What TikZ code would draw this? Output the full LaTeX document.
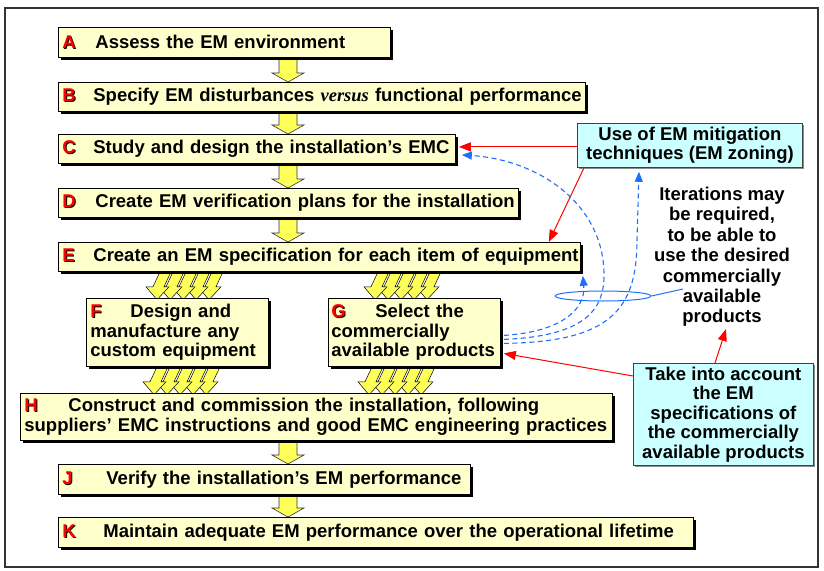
\documentclass[tikz,border=0pt]{standalone}
\usepackage{fontspec}
\setmainfont{Liberation Sans}
\newfontfamily\seriffam{Liberation Serif}
\usetikzlibrary{arrows.meta,shadows,calc,shapes.geometric}
\definecolor{ylw}{RGB}{255,255,204}
\definecolor{arrY}{RGB}{255,255,90}
\definecolor{cyn}{RGB}{204,255,255}
\definecolor{blu}{RGB}{30,110,255}
\definecolor{lred}{RGB}{255,0,0}
\pgfdeclarelayer{bg}
\pgfsetlayers{bg,main}
\newcommand\fs{\fontsize{18.5}{19.5}\selectfont\bfseries}
\newcommand\lbl[1]{\makebox[0pt][l]{\kern1pt\raisebox{-1pt}{\color{black}#1}}\textcolor{lred}{#1}}
\newcommand\lead[2]{\makebox[#1pt][l]{\lbl{#2}}}
\newcommand\one[1]{\mbox{#1}}
\newcommand\barr[2]{\path[barrow] let \p1=(#1.south -| xc), \p2=(#2.north -| xc) in
  (\x1-9pt,\y1) -- (\x1+9pt,\y1) -- (\x1+9pt,\y2+9pt) -- (\x1+16pt,\y2+9pt) -- (\x1,\y2)
  -- (\x1-16pt,\y2+9pt) -- (\x1-9pt,\y2+9pt) -- cycle;}
\begin{document}
\begin{tikzpicture}[x=1pt,y=-1pt,
  ybox/.style={draw=black, fill=ylw, line width=0.8pt,
    drop shadow={shadow xshift=3pt, shadow yshift=-3pt, fill=black, opacity=1},
    anchor=north west, align=left, inner xsep=4pt, inner ysep=0pt, font=\fs},
  cbox/.style={draw=black!75, fill=cyn, line width=0.8pt,
    drop shadow={shadow xshift=2pt, shadow yshift=-2pt, fill=black!45, opacity=1},
    anchor=north west, align=center, inner sep=0pt, font=\fs},
  barrow/.style={fill=arrY, draw=black!80, line width=0.6pt},
  fanst/.style={fill=arrY, draw=black, line width=0.5pt},
  redarr/.style={draw=lred, line width=1pt, -{Triangle[length=12pt,width=9pt]}},
  bluarr/.style={draw=blu, line width=1.1pt, dash pattern=on 5pt off 3.5pt,
    -{Triangle[length=10pt,width=8pt]}},
  fan/.pic={
    \foreach \i in {4,3,2,1,0}{
      \pgfmathsetmacro\o{13*\i}
      \path[fanst] (\o,0) -- (\o+11,0) -- (\o+4,15) -- (\o+9,15) -- (\o-3,28)
        -- (\o-14,15) -- (\o-7,15) -- cycle;
    }}
]
\useasboundingbox (0,0) rectangle (824,570);
\draw[line width=1.2pt, black!80] (5,8) rectangle (818,567);
\coordinate (xc) at (288,0);
\coordinate (f1) at (160,0);
\coordinate (f2) at (378,0);
\coordinate (f3) at (157,0);
\coordinate (f4) at (372,0);

\node[ybox, text width=324pt, minimum height=30pt] (A) at (58,27)
  {\one{\lead{33}{A}Assess the EM environment}};
\node[ybox, text width=519pt, minimum height=29pt] (B) at (58,82)
  {\one{\lead{31}{B}Specify EM disturbances {\seriffam\bfseries\itshape versus} functional performance}};
\node[ybox, text width=389pt, minimum height=29pt] (C) at (58,134)
  {\one{\lead{31}{C}Study and design the installation’s EMC}};
\node[ybox, text width=452pt, minimum height=29pt] (D) at (58,188)
  {\one{\lead{33}{D}Create EM verification plans for the installation}};
\node[ybox, text width=514pt, minimum height=29pt] (E) at (58,242)
  {\one{\lead{31}{E}Create an EM specification for each item of equipment}};
\node[ybox, text width=174pt, minimum height=68pt] (F) at (86,298)
  {\one{\lead{40}{F}Design and}\\ \one{manufacture any}\\ \one{custom equipment}};
\node[ybox, text width=166pt, inner xsep=3pt, minimum height=68pt] (G) at (328,298)
  {\one{\lead{44}{G}Select the}\\ \one{commercially}\\ \one{available products}};
\node[ybox, text width=584pt, minimum height=47pt] (H) at (20,393)
  {\one{\lead{44}{H}Construct and commission the installation, following}\\
   \one{suppliers’ EMC instructions and good EMC engineering practices}};
\node[ybox, text width=404pt, minimum height=30pt] (J) at (58,464)
  {\one{\lead{44}{J}Verify the installation’s EM performance}};
\node[ybox, text width=627pt, minimum height=30pt] (K) at (58,517)
  {\one{\lead{41}{K}Maintain adequate EM performance over the operational lifetime}};

\node[cbox, minimum width=225pt, minimum height=44pt] (U) at (577,123)
  {Use of EM mitigation\\ techniques (EM zoning)};
\node[cbox, minimum width=180pt, minimum height=102pt] (T) at (633,363)
  {Take into account\\ the EM\\ specifications of\\ the commercially\\ available products};
\node[font=\fontsize{18.5}{20.4}\selectfont\bfseries, align=center, inner sep=0pt] (I) at (722,257)
  {Iterations may\\ be required,\\ to be able to\\ use the desired\\ commercially\\ available\\ products};

\begin{pgfonlayer}{bg}
  \barr{A}{B}
  \barr{B}{C}
  \barr{C}{D}
  \barr{D}{E}
  \barr{H}{J}
  \barr{J}{K}
  \pic at (E.south -| f1) {fan};
  \pic at (E.south -| f2) {fan};
  \pic at (F.south -| f3) {fan};
  \pic at (G.south -| f4) {fan};
\end{pgfonlayer}

% red arrows
\draw[redarr] ($(C.east -| U.west)+(0,-2)$) -- ($(C.east)+(3,-2)$);
\draw[redarr] ($(U.south west)+(7,0)$) -- ($(E.north east)+(-32,0)$);
\draw[redarr] ($(T.north west)+(0,13)$) -- ($(G.east)+(3,21)$);
\draw[redarr] ($(T.north west)+(82,0)$) -- ($(I.south)+(4,2)$);

% blue dashed iteration loops
\draw[bluarr] ($(G.east)+(3,3)$) .. controls (560,332) and (586,310) .. ($(E.south east)+(2,4)$);
\draw[bluarr] ($(G.east)+(3,7)$) .. controls (585,336) and (604,310) .. (604,275)
  .. controls (604,205) and (540,160) .. ($(C.east)+(6,6)$);
\draw[bluarr] ($(G.east)+(3,11)$) .. controls (610,342) and (637,310) .. (637,240)
  -- ($(U.south west)+(62,4)$);
\node[draw=blu, line width=1pt, ellipse, minimum width=96pt, minimum height=10pt, inner sep=0pt] (L) at (603,296) {};
\coordinate (Lt) at (683,289);
\draw[blu, line width=1pt] (L.east) -- (Lt);
\end{tikzpicture}
\end{document}
